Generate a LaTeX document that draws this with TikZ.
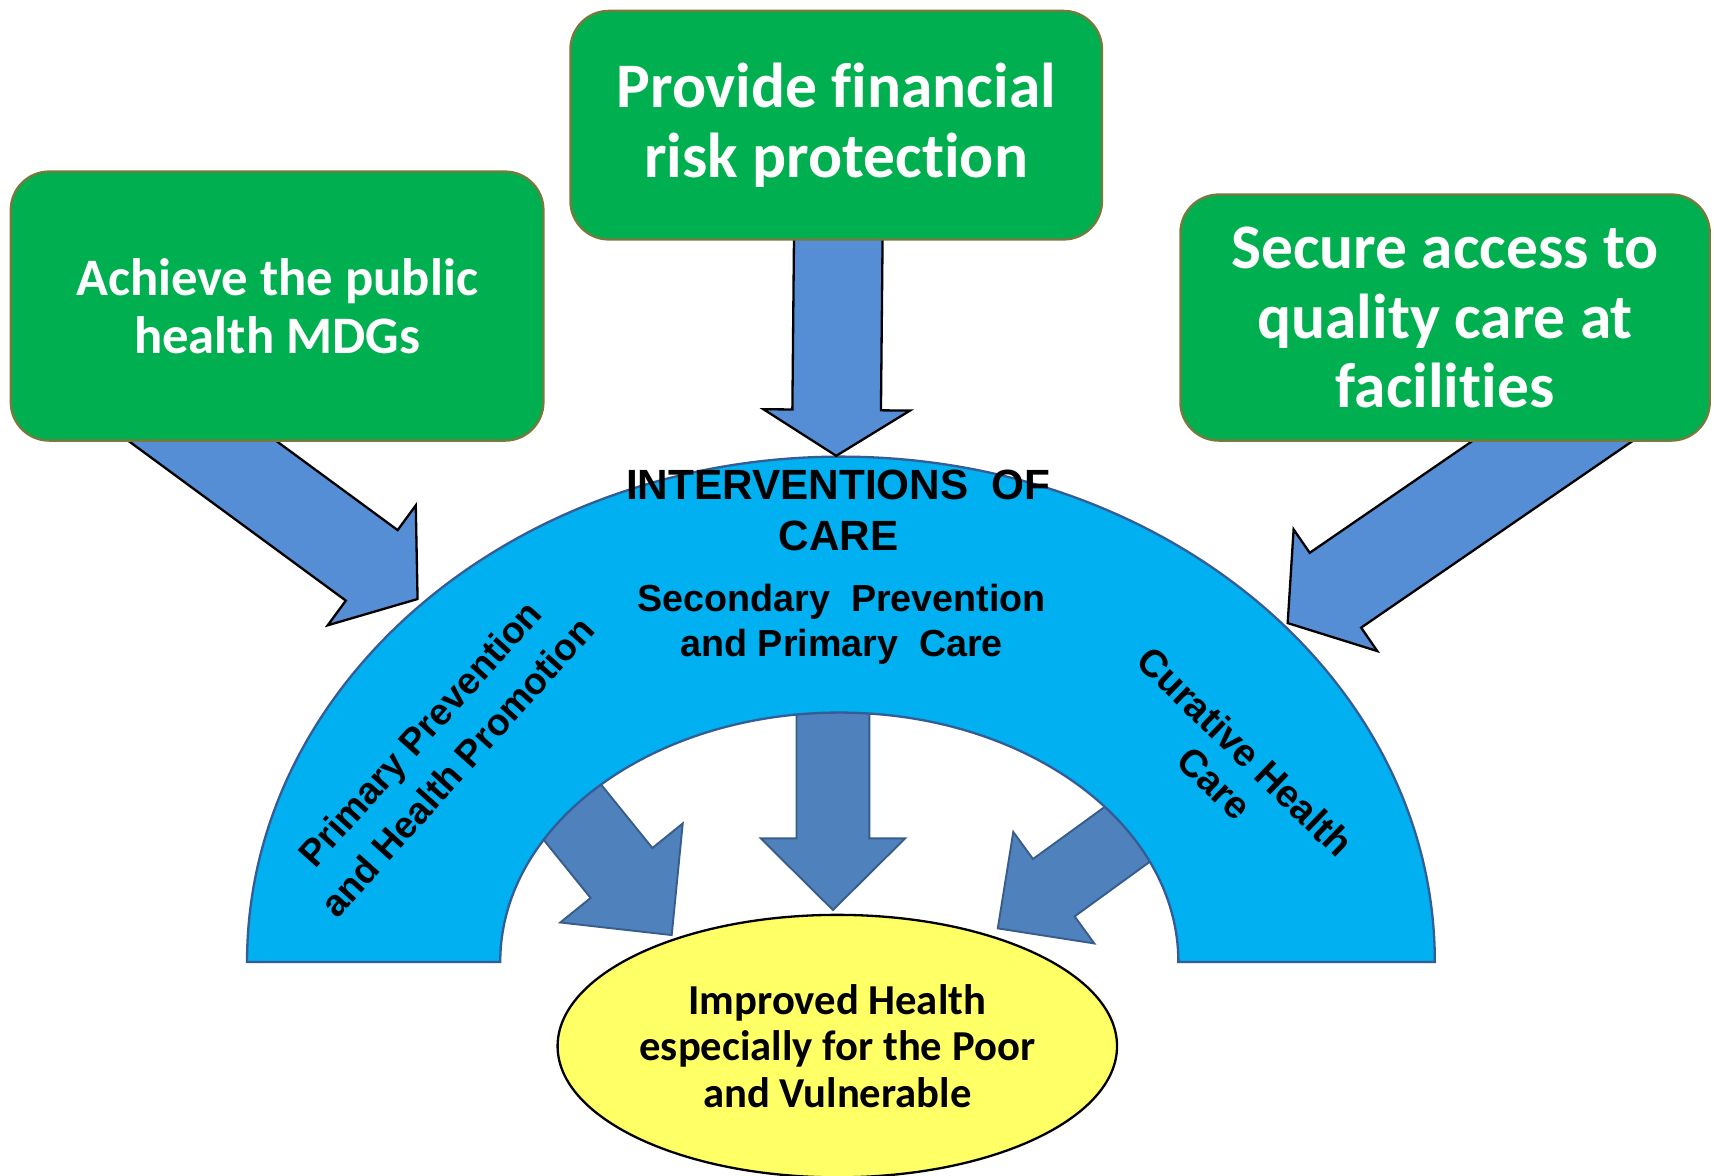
\documentclass[tikz,border=0pt]{standalone}
\usepackage{fontspec}
\usepackage{tikz}
\usetikzlibrary{calc,shapes.geometric,backgrounds}
\newfontfamily\calibri[Ligatures=NoCommon]{Carlito}
\newfontfamily\arial{Liberation Sans}
\definecolor{boxgreen}{RGB}{0,176,80}
\definecolor{boxedge}{RGB}{118,122,60}
\definecolor{topblue}{RGB}{85,142,213}
\definecolor{bandblue}{RGB}{0,176,240}
\definecolor{bandedge}{RGB}{52,92,150}
\definecolor{lowblue}{RGB}{79,129,189}
\definecolor{lowedge}{RGB}{56,93,138}
\definecolor{goalyellow}{RGB}{255,255,102}

\newcommand{\blockarrow}[6][]{%
  \coordinate (ba) at ($(#3)!#6!(#2)$);
  \draw[#1] ($(#2)!#4!90:(#3)$) -- ($(ba)!#4!90:(#3)$) -- ($(ba)!#5!90:(#3)$) -- (#3)
        -- ($(ba)!#5!-90:(#3)$) -- ($(ba)!#4!-90:(#3)$) -- ($(#2)!#4!-90:(#3)$) -- cycle;}

\begin{document}
\begin{tikzpicture}[x=0.01cm, y=-0.01cm, line join=miter,
    gbox/.style={draw=boxedge, fill=boxgreen, line width=0.6pt, rounded corners=10pt, text=white, align=center, inner sep=0pt},
    toparrow/.style={draw=black, fill=topblue, line width=0.6pt},
    lowarrow/.style={draw=lowedge, fill=lowblue, line width=0.5pt},
    band/.style={draw=bandedge, fill=bandblue, line width=0.6pt},
    bandtext/.style={align=center, inner sep=0pt}]
        \useasboundingbox (0,0) rectangle (1568,1075);

        \node[gbox, minimum width=4.87cm, minimum height=2.46cm, font=\calibri\bfseries\fontsize{13.7}{15.2}\selectfont] (mdg)    at (253.5,280)  {Achieve the public\\health MDGs};
        \node[gbox, minimum width=4.86cm, minimum height=2.09cm, font=\calibri\bfseries\fontsize{16.5}{18}\selectfont]   (risk)   at (765,114.5)  {Provide financial\\risk protection};
        \node[gbox, minimum width=4.84cm, minimum height=2.25cm, font=\calibri\bfseries\fontsize{16.5}{18}\selectfont]   (access) at (1322,290.5) {Secure access to\\quality care at\\facilities};

        \node[bandtext, font=\arial\bfseries\fontsize{11}{13.4}\selectfont]            (care) at (767,467) {INTERVENTIONS\ \ OF\\CARE};
        \node[bandtext, font=\arial\bfseries\fontsize{9.8}{11.7}\selectfont]           (sec)  at (770,571) {Secondary\ \ Prevention\\and Primary\ \ Care};
        \node[bandtext, rotate=48, font=\arial\bfseries\fontsize{9.7}{13}\selectfont]  (prim) at (401,686) {Primary Prevention\\and Health Promotion};
        \node[bandtext, rotate=-44, font=\arial\bfseries\fontsize{10}{11.5}\selectfont] (cur) at (1125,702) {Curative Health\\Care};

        \node[draw=black, fill=goalyellow, ellipse, line width=0.6pt, minimum width=5.1cm, minimum height=2.4cm, inner sep=0pt, align=center,
              font=\calibri\bfseries\fontsize{11.1}{12.1}\selectfont] (goal) at (766,957) {Improved Health\\especially for the Poor\\and Vulnerable};

        \coordinate (mdg-start)    at ($(mdg.south)+(-126.7,-43.6)$);
        \coordinate (mdg-tip)      at (382,548);
        \coordinate (risk-start)   at ($(risk.south)+(2,-14)$);
        \coordinate (risk-tip)     at (765,417);
        \coordinate (access-start) at ($(access.south)+(165.6,-47)$);
        \coordinate (access-tip)   at (1178,570);
        \coordinate (prim-start)   at (505,720);
        \coordinate (prim-tip)     at (614.5,855.4);
        \coordinate (sec-start)    at (762,630);
        \coordinate (sec-tip)      at (762,832.5);
        \coordinate (cur-start)    at (1055,746);
        \coordinate (cur-tip)      at (912.8,849.3);

        \begin{scope}[on background layer]
            \blockarrow[lowarrow]{prim-start}{prim-tip}{0.363cm}{0.72cm}{0.73cm}
            \blockarrow[lowarrow]{sec-start}{sec-tip}{0.333cm}{0.66cm}{0.655cm}
            \blockarrow[lowarrow]{cur-start}{cur-tip}{0.324cm}{0.63cm}{0.633cm}
            \draw[band] (226,880) arc[start angle=180, end angle=0, x radius=5.43cm, y radius=4.62cm]
                -- (1078,880) arc[start angle=0, end angle=180, x radius=3.10cm, y radius=2.28cm] -- cycle;
            \blockarrow[toparrow]{mdg-start}{mdg-tip}{0.40cm}{0.68cm}{0.52cm}
            \blockarrow[toparrow]{risk-start}{risk-tip}{0.405cm}{0.67cm}{0.42cm}
            \blockarrow[toparrow]{access-start}{access-tip}{0.415cm}{0.675cm}{0.53cm}
        \end{scope}
\end{tikzpicture}
\end{document}
